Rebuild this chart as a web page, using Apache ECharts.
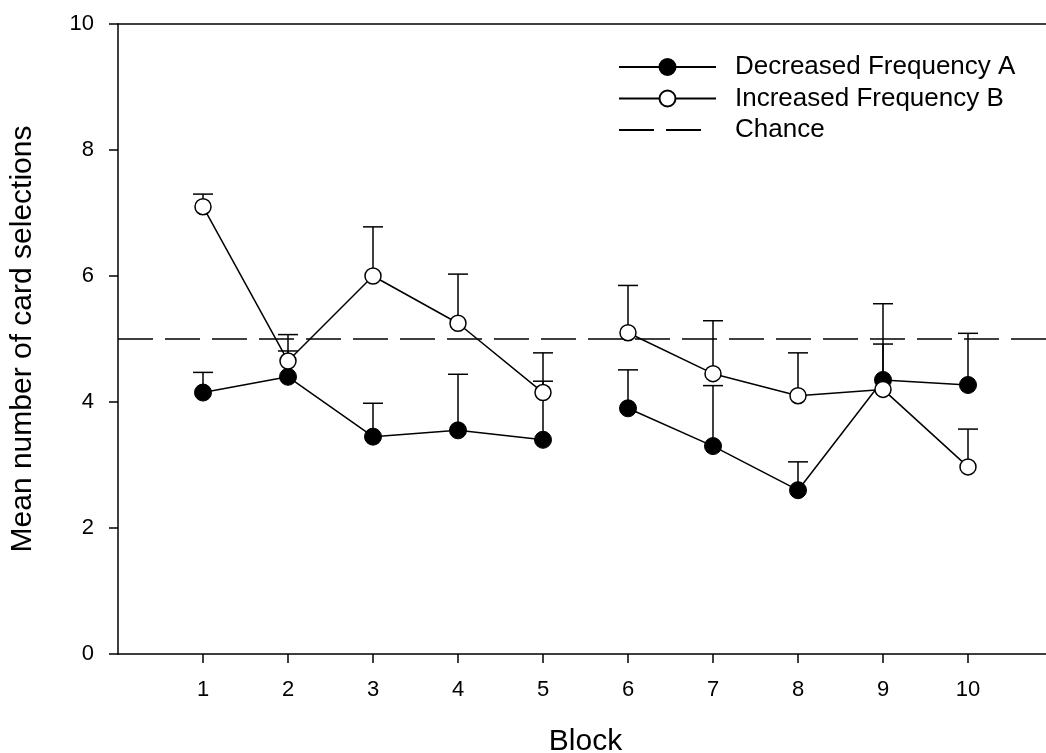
<!DOCTYPE html>
<html>
<head>
<meta charset="utf-8">
<title>Mean number of card selections by block</title>
<script src="https://cdn.jsdelivr.net/npm/echarts@6/dist/echarts.min.js"></script>
<style>
  html, body { margin: 0; padding: 0; background: #fff; }
  #chart { width: 1046px; height: 753px; }
</style>
</head>
<body>
<div id="chart"></div>
<script>
// Blocks on the x axis
const blocks = [1, 2, 3, 4, 5, 6, 7, 8, 9, 10];
const yTicks = [0, 2, 4, 6, 8, 10];

// Mean card selections per block
const decreasedA = [4.15, 4.40, 3.45, 3.55, 3.40, 3.90, 3.30, 2.60, 4.35, 4.27];
const increasedB = [7.10, 4.65, 6.00, 5.25, 4.15, 5.10, 4.45, 4.10, 4.20, 2.97];

// Upper error (SE) for each mean
const decreasedAErr = [0.32, 0.41, 0.53, 0.89, 0.93, 0.61, 0.96, 0.45, 1.21, 0.82];
const increasedBErr = [0.20, 0.42, 0.78, 0.78, 0.63, 0.75, 0.84, 0.68, 0.72, 0.60];

// Chance level
const chanceLevel = 5;

const FONT = '"Liberation Sans", Arial, sans-serif';

function pairs(xs, ys) { return xs.map((x, i) => [x, ys[i]]); }
function triples(xs, ys, es) { return xs.map((x, i) => [x, ys[i], es[i]]); }

// Upward-only error bars with a short cap
function renderErrorBar(params, api) {
  const x = api.value(0), y = api.value(1), e = api.value(2);
  const p0 = api.coord([x, y]);
  const p1 = api.coord([x, y + e]);
  const style = { stroke: '#000', lineWidth: 1.5 };
  return {
    type: 'group',
    children: [
      { type: 'line', shape: { x1: p0[0], y1: p0[1], x2: p1[0], y2: p1[1] }, style },
      { type: 'line', shape: { x1: p1[0] - 10, y1: p1[1], x2: p1[0] + 10, y2: p1[1] }, style }
    ]
  };
}

const chart = echarts.init(document.getElementById('chart'), null, { renderer: 'canvas' });

chart.setOption({
  backgroundColor: '#fff',
  animation: false,
  grid: { left: 118, top: 24, width: 935, bottom: 99, containLabel: false, outerBoundsMode: 'none' },
  legend: {
    show: true,
    left: 613,
    top: 49,
    orient: 'vertical',
    itemWidth: 97,
    itemHeight: 20,
    itemGap: 5.5,
    data: [
      'Decreased Frequency A',
      'Increased Frequency B',
      {
        name: 'Chance',
        itemStyle: { color: 'transparent', borderWidth: 0, opacity: 0 },
        lineStyle: { type: [35, 12, 35, 15] }
      }
    ],
    textStyle: { fontFamily: FONT, fontSize: 26, color: '#000', lineHeight: 26, padding: [0, 0, 0, 14] }
  },
  xAxis: [
    {
      type: 'value',
      min: 0,
      max: 11,
      interval: 1,
      name: 'Block',
      nameLocation: 'middle',
      nameGap: 73,
      nameTextStyle: { fontFamily: FONT, fontSize: 30, color: '#000' },
      axisLine: { show: true, lineStyle: { color: '#000', width: 1.5 } },
      axisTick: { show: true, inside: false, length: 9, customValues: blocks, lineStyle: { color: '#000', width: 1.5 } },
      axisLabel: { show: true, margin: 25, customValues: blocks, fontFamily: FONT, fontSize: 22, color: '#000' },
      splitLine: { show: false }
    },
    {
      type: 'value',
      position: 'top',
      min: 0,
      max: 11,
      axisLine: { show: true, onZero: false, lineStyle: { color: '#000', width: 1.5 } },
      axisTick: { show: false },
      axisLabel: { show: false },
      splitLine: { show: false }
    }
  ],
  yAxis: {
    type: 'value',
    min: 0,
    max: 10,
    interval: 2,
    name: 'Mean number of card selections',
    nameLocation: 'middle',
    nameGap: 80,
    nameTextStyle: { fontFamily: FONT, fontSize: 30, color: '#000' },
    axisLine: { show: true, lineStyle: { color: '#000', width: 1.5 } },
    axisTick: { show: true, inside: false, length: 9, customValues: yTicks, lineStyle: { color: '#000', width: 1.5 } },
    axisLabel: { show: true, margin: 24, customValues: yTicks, fontFamily: FONT, fontSize: 22, color: '#000' },
    splitLine: { show: false }
  },
  series: [
    {
      name: 'Chance',
      type: 'line',
      data: [[0, chanceLevel], [11, chanceLevel]],
      symbol: 'none',
      lineStyle: { color: '#000', width: 1.5, type: [35, 12] },
      itemStyle: { color: '#000' },
      z: 1
    },
    {
      type: 'custom',
      renderItem: renderErrorBar,
      data: triples(blocks, decreasedA, decreasedAErr),
      z: 2
    },
    {
      type: 'custom',
      renderItem: renderErrorBar,
      data: triples(blocks, increasedB, increasedBErr),
      z: 2
    },
    {
      name: 'Decreased Frequency A',
      type: 'line',
      data: pairs(blocks.slice(0, 5), decreasedA.slice(0, 5)),
      symbol: 'circle',
      symbolSize: 17,
      lineStyle: { color: '#000', width: 1.5 },
      itemStyle: { color: '#000', borderColor: '#000', borderWidth: 1 },
      z: 3
    },
    {
      name: 'Decreased Frequency A',
      type: 'line',
      data: pairs(blocks.slice(5), decreasedA.slice(5)),
      symbol: 'circle',
      symbolSize: 17,
      lineStyle: { color: '#000', width: 1.5 },
      itemStyle: { color: '#000', borderColor: '#000', borderWidth: 1 },
      z: 3
    },
    {
      name: 'Increased Frequency B',
      type: 'line',
      data: pairs(blocks.slice(0, 5), increasedB.slice(0, 5)),
      symbol: 'circle',
      symbolSize: 16,
      lineStyle: { color: '#000', width: 1.5 },
      itemStyle: { color: '#fff', borderColor: '#000', borderWidth: 1.5 },
      z: 4
    },
    {
      name: 'Increased Frequency B',
      type: 'line',
      data: pairs(blocks.slice(5), increasedB.slice(5)),
      symbol: 'circle',
      symbolSize: 16,
      lineStyle: { color: '#000', width: 1.5 },
      itemStyle: { color: '#fff', borderColor: '#000', borderWidth: 1.5 },
      z: 4
    }
  ]
});
</script>
</body>
</html>
